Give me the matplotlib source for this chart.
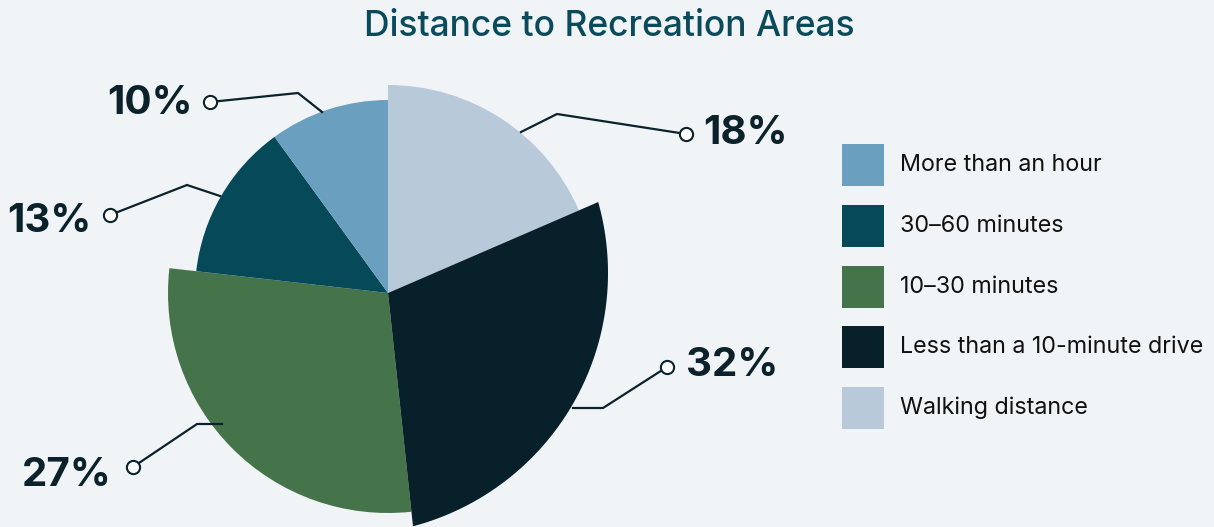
import numpy as np
import matplotlib.pyplot as plt
from matplotlib.patches import Rectangle, Polygon

W, H = 1214, 527

# slices in drawing order (clockwise from 12 o'clock)
categories = ['Walking distance', 'Less than a 10-minute drive', '10–30 minutes',
              '30–60 minutes', 'More than an hour']
shares = [18.5, 29.8, 28.5, 13.2, 10.0]       # angular share as drawn
pct_labels = ['18%', '32%', '27%', '13%', '10%']
radii = [208, 231, 220, 193, 193]             # each slice has its own radius
colors = ['#b8c9da', '#08202a', '#46744a', '#064a5a', '#6a9fbf']

# legend order (top to bottom)
legend_order = ['More than an hour', '30–60 minutes', '10–30 minutes',
                'Less than a 10-minute drive', 'Walking distance']

bg = '#f0f4f7'
ink = '#0b222b'

fig = plt.figure(figsize=(W / 100, H / 100), dpi=100, facecolor=bg)
ax = fig.add_axes([0, 0, 1, 1])
ax.set_facecolor(bg)

cx, cy = 388, H - 293
wedges, _ = ax.pie(shares, colors=colors, startangle=90, counterclock=False,
                   center=(cx, cy), radius=200, frame=True,
                   wedgeprops=dict(linewidth=0))
for w, r in zip(wedges, radii):
    w.set_radius(r)

# the big dark slice's outer arc is drawn on a circle that is off-centre
dark = wedges[categories.index('Less than a 10-minute drive')]
ox, oy, R = 346, H - 273, 262
th = np.radians(np.linspace(dark.theta1, dark.theta2, 200))
dx, dy = np.cos(th), np.sin(th)
px, py = cx - ox, cy - oy
b = px * dx + py * dy
t = -b + np.sqrt(b * b - (px * px + py * py - R * R))
pts = np.column_stack([cx + t * dx, cy + t * dy])
pts = np.vstack([[cx, cy], pts])
dark.set_visible(False)
ax.add_patch(Polygon(pts, closed=True, color=dark.get_facecolor(), lw=0, zorder=dark.get_zorder()))

ax.set_xlim(0, W)
ax.set_ylim(0, H)
ax.set_aspect('equal')
ax.axis('off')

# leader lines (pixel coords, y from top): edge -> kink -> dot, then label
leaders = {
    '18%': [(521, 132), (557, 114), (686, 134)],
    '32%': [(573, 408), (603, 408), (667, 367)],
    '27%': [(222, 424), (197, 424), (133, 467)],
    '13%': [(220, 196), (187, 185), (110, 215)],
    '10%': [(322, 112), (298, 93), (210, 102)],
}
label_pos = {
    '18%': (703, 134, 'left'),
    '32%': (686, 365, 'left'),
    '27%': (112, 476, 'right'),
    '13%': (91, 222, 'right'),
    '10%': (193, 104, 'right'),
}

for lab in pct_labels:
    pts = leaders[lab]
    xs = [p[0] for p in pts]
    ys = [H - p[1] for p in pts]
    ax.plot(xs, ys, color=ink, lw=1.6, solid_joinstyle='miter', zorder=3)
    ax.plot(xs[-1], ys[-1], 'o', ms=9.5, mfc='white', mec=ink, mew=1.5, zorder=4)
    tx, ty, ha = label_pos[lab]
    ax.text(tx, H - ty, lab, ha=ha, va='center', fontsize=29, fontweight='bold',
            family='Inter', color=ink)

# legend
for i, name in enumerate(legend_order):
    yc = 165 + i * 60.8
    col = colors[categories.index(name)]
    ax.add_patch(Rectangle((842, H - yc - 21), 42, 42, color=col, lw=0))
    ax.text(900, H - yc, name, ha='left', va='center', fontsize=16.8,
            family='Inter', color='#111111')

fig.text(609 / W, 1 - 26 / H, 'Distance to Recreation Areas', ha='center', va='center',
         fontsize=25.5, family='Inter', fontweight='medium', color='#0b4a5a')

fig.savefig('out.png', dpi=100, facecolor=bg)
